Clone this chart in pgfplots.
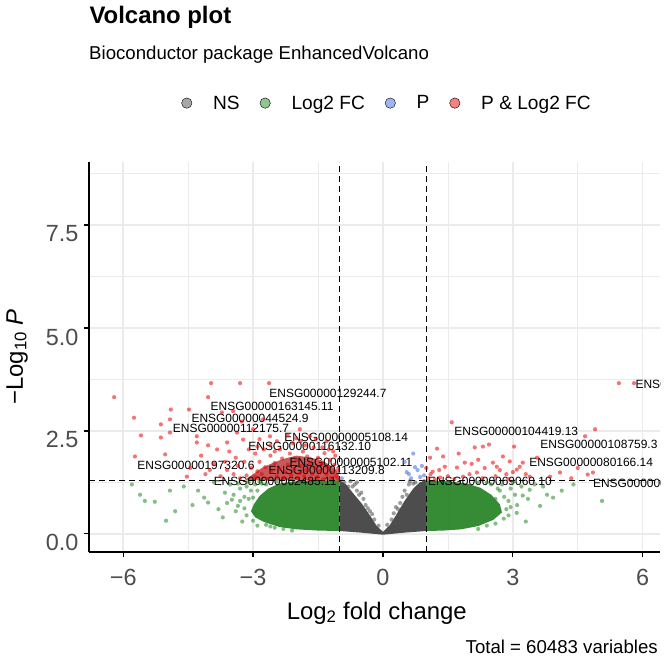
\documentclass[border=0pt]{standalone}
\usepackage{fontspec}
\setmainfont{Liberation Sans}
\usepackage{pgfplots}
\pgfplotsset{compat=1.18}
\definecolor{g30}{HTML}{4D4D4D}
\definecolor{fgreen}{HTML}{228B22}
\definecolor{rblue}{HTML}{4169E1}
\definecolor{red2}{HTML}{EE0000}
\definecolor{gridc}{HTML}{EBEBEB}
\tikzset{
  lab/.style={font=\fontsize{12}{12}\selectfont, inner sep=0pt, text=black},
}
\pgfplotsset{
  pts/.style={only marks, mark=*, mark size=2.1bp, forget plot,
    mark options={fill=#1, fill opacity=0.55, draw opacity=0, line width=0pt}},
}
\begin{document}
\begin{tikzpicture}
\begin{axis}[
  at={(89bp,110bp)}, anchor=south west, scale only axis,
  width=571bp, height=390bp,
  xmin=-6.79, xmax=6.40, ymin=-0.44, ymax=9.03,
  axis lines=left, axis line style={-, line width=1.2bp, black},
  xtick={-6,-3,0,3,6}, xticklabels={−6,−3,0,3,6},
  ytick={0,2.5,5,7.5}, yticklabels={0.0,2.5,5.0,7.5},
  minor xtick={-4.5,-1.5,1.5,4.5}, minor ytick={1.25,3.75,6.25,8.75},
  grid=both,
  major grid style={draw=gridc, line width=1.4bp},
  minor grid style={draw=gridc, line width=0.7bp},
  tick align=outside, major tick length=5bp, minor tick length=0pt,
  major tick style={black, line width=1.2bp},
  tick label style={font=\fontsize{23.5}{24}\selectfont, text=g30},
  xticklabel style={anchor=base, yshift=-28bp},
  yticklabel style={anchor=east, yshift=-9bp, xshift=-2bp},
  xlabel={Log\textsubscript{2} fold change},
  ylabel={−Log\textsubscript{10} \textit{P}},
  label style={font=\fontsize{24}{24}\selectfont},
  xlabel style={at={(axis description cs:0.504,-0.172)}, anchor=base},
  ylabel style={at={(axis description cs:-0.116,0.5)}, anchor=base},
  legend image code/.code={\fill[#1] (0bp,0bp) circle (5.2bp);},
  legend style={at={(axis description cs:0.522,1.151)}, anchor=center,
    draw=none, fill=none, legend columns=-1,
    font=\fontsize{19.2}{20}\selectfont,
    /tikz/every odd column/.append style={column sep=19bp},
    /tikz/every even column/.append style={column sep=18bp}},
]
% dense green masses
\addplot[fill=fgreen!92!black, fill opacity=0.9, draw=none, forget plot] coordinates {
(-1,1.3)(-1.5,1.3)(-2.0,1.28)(-2.4,1.22)(-2.65,1.1)(-2.85,0.92)(-2.98,0.72)(-3.05,0.55)(-2.95,0.4)(-2.75,0.29)(-2.4,0.17)(-2.0,0.11)(-1.5,0.08)(-1,0.07)} --cycle;
\addplot[fill=fgreen!92!black, fill opacity=0.9, draw=none, forget plot] coordinates {
(1,1.3)(1.5,1.28)(1.95,1.22)(2.25,1.12)(2.5,0.95)(2.7,0.72)(2.75,0.52)(2.55,0.34)(2.2,0.19)(1.8,0.11)(1.4,0.08)(1,0.07)} --cycle;
% dense grey mass
\addplot[fill=g30, draw=none, forget plot] coordinates {
(-1,0.07)(-1,1.3)(-0.85,1.2)(-0.7,1.0)(-0.5,0.75)(-0.3,0.45)(-0.15,0.2)(0,0.05)(0.15,0.2)(0.3,0.45)(0.5,0.8)(0.7,1.1)(0.85,1.25)(1,1.3)(1,0.07)(0.5,0.03)(0,-0.02)(-0.5,0.03)} --cycle;
% dense red mass
\addplot[fill=red2!70!black, fill opacity=0.65, draw=none, forget plot] coordinates {
(-3.2,1.3)(-3.0,1.45)(-2.8,1.6)(-2.55,1.72)(-2.3,1.82)(-2.0,1.9)(-1.7,1.86)(-1.4,1.78)(-1.15,1.62)(-1.03,1.47)(-1.0,1.3)} --cycle;
% NS points
\addplot[pts=g30] coordinates {
(-0.9,1.25)(-0.8,1.15)(-0.75,1.28)(-0.6,1.05)(-0.55,0.95)(-0.4,0.7)(0.4,0.75)(0.55,0.95)(0.6,1.2)(0.75,1.25)(0.8,1.05)(0.9,1.2)(-0.95,1.1)(0.35,0.6)(-0.3,0.55)(0.95,1.28)(-0.85,0.95)(0.65,0.9)(-0.65,1.2)(-0.45,0.85)(0.45,0.9)(-0.2,0.35)(0.2,0.35)(0.25,0.5)(-0.35,0.62)(-0.7,1.15)(0.7,1.22)(-0.5,1.0)(-0.6,1.25)(0.5,1.05)(0.62,1.28)(-0.25,0.48)(0.3,0.65)(-0.1,0.2)(0.1,0.22)};
% Log2 FC points
\addplot[pts=fgreen] coordinates {
(-5.61,0.95)(-5.5,0.8)(-5.27,0.78)(-5.01,0.32)(-4.92,1.05)(-4.27,1.05)(-4.13,0.88)(-4.04,0.76)(-3.53,1.2)(-3.49,0.83)(-3.35,0.68)(-3.0,0.32)(-3.8,0.6)(-3.65,1.0)(-3.3,1.1)(-3.2,0.9)(-3.15,0.45)(-2.95,1.2)(-3.1,1.25)(-3.4,0.55)(-2.9,0.2)(-2.7,0.22)(-2.5,0.15)(-4.6,1.15)(-4.4,0.7)(-3.9,1.25)(-3.25,0.3)(-2.85,1.27)(-5.8,1.2)(-3.7,0.4)(-3.3,0.8)(-3.05,1.05)(-2.8,1.22)(-2.6,0.18)(-3.35,1.22)(-3.2,0.62)(-3.1,0.85)(-2.95,0.5)(-3.45,0.95)(-3.6,0.75)(-2.9,1.05)(-3.15,1.15)(-4.8,0.55)(-2.3,0.12)(-2.1,0.08)(-2.7,1.2)(-3.0,0.88)(-2.45,1.27)
(3.09,0.51)(2.79,0.37)(3.39,1.07)(3.63,0.68)(3.93,0.88)(4.13,1.05)(5.06,0.8)(3.23,0.93)(3.79,0.95)(2.9,0.8)(2.95,1.1)(3.1,0.7)(2.75,1.2)(3.0,1.25)(3.5,1.2)(2.6,0.25)(2.85,0.6)(3.3,0.3)(4.4,1.2)(3.2,1.15)(2.4,1.25)(2.65,1.1)(2.9,0.45)(2.5,1.2)(3.05,0.95)(2.8,0.9)(2.7,1.05)(2.95,0.65)(3.35,0.85)(2.4,0.2)(2.2,0.12)(3.7,1.15)(2.2,1.25)(2.6,0.85)};
% P points
\addplot[pts=rblue] coordinates {
(0.7,1.95)(0.5,1.75)(0.74,1.62)(0.8,1.55)(0.6,1.45)(0.86,1.38)(0.95,1.42)(0.65,1.35)(-0.95,1.35)(0.9,1.65)(0.55,1.5)};
% P & Log2 FC points
\addplot[pts=red2] coordinates {
(-6.21,3.32)(-3.97,3.66)(-3.30,3.66)(-2.63,3.66)(-4.04,3.32)(-4.90,3.02)(-4.48,3.02)(-5.75,2.82)(-4.92,2.78)(-5.13,2.66)(-5.59,2.39)(-5.13,2.34)(-4.92,2.46)(-4.30,2.37)(-4.04,2.15)(-3.83,2.05)(-5.03,1.93)(-5.73,1.88)(-4.53,1.39)(-4.30,2.22)(-3.60,2.22)(-3.37,2.46)(-3.23,2.29)(-3.00,2.54)(-3.72,2.95)(-3.46,2.98)(-3.26,2.73)(-2.77,2.78)(-2.61,2.37)(-1.92,2.54)(-1.69,2.37)
(-3.3,1.35)(-3.15,1.42)(-3.05,1.6)(-2.95,1.38)(-2.9,1.52)(-2.85,1.75)(-2.8,1.45)(-2.72,1.62)(-2.68,1.34)(-2.6,1.9)(-2.58,1.5)(-2.5,1.72)(-2.45,1.4)(-2.4,1.58)(-2.38,2.05)(-2.33,1.83)(-2.3,1.36)(-2.25,1.5)(-2.2,1.68)(-2.15,1.95)(-2.12,1.42)(-2.08,2.2)(-2.05,1.57)(-2.0,1.8)(-1.97,1.35)(-1.92,1.47)(-1.9,1.65)(-1.85,2.0)(-1.82,1.4)(-1.78,1.55)(-1.75,1.88)(-1.7,1.32)(-1.68,1.72)(-1.63,1.46)(-1.6,2.1)(-1.57,1.6)(-1.52,1.38)(-1.5,1.85)(-1.45,1.52)(-1.42,1.7)(-1.38,1.33)(-1.35,1.96)(-1.3,1.45)(-1.27,1.62)(-1.22,1.8)(-1.2,1.36)(-1.15,1.5)(-1.12,1.68)(-1.08,1.4)(-1.05,1.55)(-1.03,1.33)(-1.1,1.9)(-1.25,2.05)(-1.9,2.25)(-2.6,2.15)(-3.4,1.85)(-3.6,1.55)(-3.75,1.4)(-3.9,1.7)(-4.1,1.45)(-4.2,1.9)(-4.45,1.6)(-3.55,2.0)(-3.1,2.05)(-2.85,2.3)(-2.2,2.4)(-1.55,2.3)(-1.3,2.25)(-3.45,1.45)(-3.2,1.75)(-2.95,1.95)(-2.75,2.05)(-2.5,2.0)(-1.8,2.15)(-1.4,2.1)(-3.65,1.75)(-4.0,1.55)(-2.9,2.12)(-2.45,2.25)(-2.0,2.32)(-1.15,2.0)(-3.35,1.65)
(5.45,3.66)(5.80,3.66)(1.59,2.71)(4.90,2.54)(4.67,2.37)(1.25,2.07)(1.39,1.88)(2.12,2.10)(2.31,2.12)(2.45,2.17)(3.03,2.12)(2.77,1.88)(2.54,1.73)(2.63,1.63)(1.89,1.73)(1.71,1.61)(1.43,1.63)(1.09,1.85)(1.15,1.51)(3.16,1.63)(3.23,1.73)(3.09,1.56)(2.17,1.49)(4.09,1.49)(4.73,1.44)(4.85,1.49)(3.39,1.39)(3.86,1.39)(1.85,1.39)(1.32,1.37)(3.56,1.85)(2.93,1.76)
(1.05,1.35)(1.1,1.45)(1.2,1.32)(1.5,1.4)(1.65,1.33)(2.0,1.45)(2.3,1.35)(2.6,1.4)(2.9,1.33)(3.0,1.5)(1.75,1.95)(2.05,1.7)(2.35,1.6)(2.7,1.55)(3.3,1.45)(4.35,1.35)(4.5,1.6)(1.0,1.6)(1.3,1.55)(2.2,1.8)(2.85,1.45)};
% cutoff lines
\addplot[black, line width=1.1bp, dash pattern=on 6bp off 4bp, forget plot] coordinates {(-1,-0.44)(-1,9.03)};
\addplot[black, line width=1.1bp, dash pattern=on 6bp off 4bp, forget plot] coordinates {(1,-0.44)(1,9.03)};
\addplot[black, line width=1.1bp, dash pattern=on 6bp off 4bp, forget plot] coordinates {(-6.79,1.301)(6.40,1.301)};
% legend
\addlegendimage{fill=g30, fill opacity=0.5}\addlegendentry{NS}
\addlegendimage{fill=fgreen, fill opacity=0.5}\addlegendentry{Log2 FC}
\addlegendimage{fill=rblue, fill opacity=0.5}\addlegendentry{P}
\addlegendimage{fill=red2, fill opacity=0.5}\addlegendentry{P \& Log2 FC}
% gene labels
\node[lab] at (axis cs:-1.27,3.41) {ENSG00000129244.7};
\node[lab] at (axis cs:-2.56,3.10) {ENSG00000163145.11};
\node[lab] at (axis cs:-3.07,2.80) {ENSG00000044524.9};
\node[lab] at (axis cs:-3.51,2.56) {ENSG00000112175.7};
\node[lab] at (axis cs:-0.85,2.34) {ENSG00000005108.14};
\node[lab] at (axis cs:-1.69,2.12) {ENSG00000116132.10};
\node[lab] at (axis cs:-0.74,1.74) {ENSG00000005102.11};
\node[lab] at (axis cs:-4.32,1.66) {ENSG00000197320.6};
\node[lab] at (axis cs:-1.30,1.53) {ENSG00000113209.8};
\node[lab] at (axis cs:-2.49,1.27) {ENSG00000062485.11};
\node[lab] at (axis cs:3.08,2.49) {ENSG00000104419.13};
\node[lab] at (axis cs:4.99,2.17) {ENSG00000108759.3};
\node[lab] at (axis cs:4.81,1.73) {ENSG00000080166.14};
\node[lab] at (axis cs:2.47,1.27) {ENSG00000069060.10};
\node[lab, anchor=west] at (axis cs:4.85,1.22) {ENSG00000077782.20};
\node[lab, anchor=west] at (axis cs:5.83,3.63) {ENSG00000136826.14};
\end{axis}
\node[anchor=base west, font=\fontsize{24}{24}\selectfont\bfseries] at (86bp,638bp) {Volcano plot};
\node[anchor=base west, inner sep=0pt, font=\fontsize{18.7}{20}\selectfont] at (89bp,602bp) {Bioconductor package EnhancedVolcano};
\node[anchor=base east, inner sep=0pt, font=\fontsize{18.7}{20}\selectfont] at (658bp,9bp) {Total = 60483 variables};
\pgfresetboundingbox
\useasboundingbox (0,0) rectangle (665bp,662bp);
\end{tikzpicture}
\end{document}
